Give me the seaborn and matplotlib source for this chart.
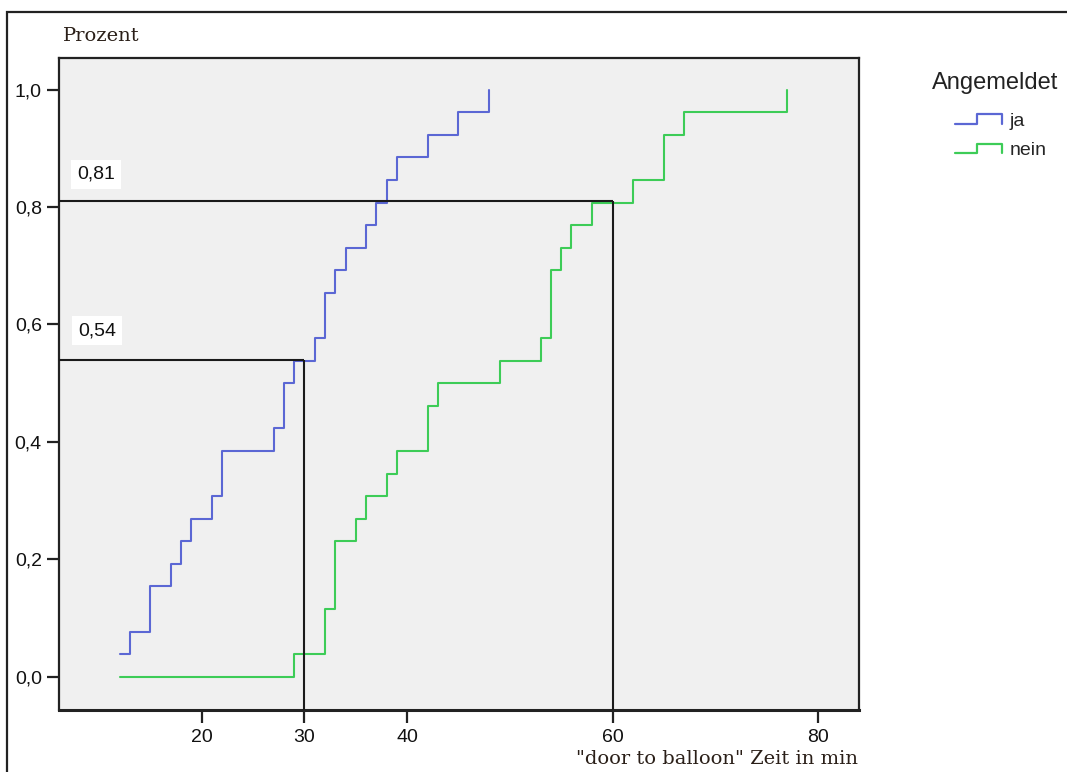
import numpy as np
import pandas as pd
import seaborn as sns
import matplotlib
matplotlib.use("Agg")
import matplotlib.pyplot as plt
from matplotlib.lines import Line2D
from matplotlib.patches import Rectangle
from matplotlib.legend_handler import HandlerBase
from matplotlib.ticker import FuncFormatter

# Cumulative share of patients by "door to balloon" time (n = 26 per group)
n_cases = 26
ja_minutes = [12, 13, 15, 17, 18, 19, 21, 22, 27, 28, 29, 31, 32, 33, 34, 36, 37, 38, 39, 42, 45, 48]
ja_cum = [1, 2, 4, 5, 6, 7, 8, 10, 11, 13, 14, 15, 17, 18, 19, 20, 21, 22, 23, 24, 25, 26]
nein_minutes = [12, 29, 32, 33, 35, 36, 38, 39, 42, 43, 49, 53, 54, 55, 56, 58, 62, 65, 67, 77]
nein_cum = [0, 1, 3, 6, 7, 8, 9, 10, 12, 13, 14, 15, 18, 19, 20, 21, 22, 24, 25, 26]

groups = ["ja", "nein"]
colors = {"ja": "#5b67d4", "nein": "#3dcc57"}

# Reference markers: share reached after 30 and 60 minutes
ref_minutes = [30, 60]
ref_shares = [0.54, 0.81]
ref_labels = ["0,54", "0,81"]

x_ticks = [20, 30, 40, 60, 80]
y_ticks = [0.0, 0.2, 0.4, 0.6, 0.8, 1.0]

df = pd.concat([
    pd.DataFrame({"Zeit": ja_minutes, "Anteil": np.array(ja_cum) / n_cases, "Angemeldet": "ja"}),
    pd.DataFrame({"Zeit": nein_minutes, "Anteil": np.array(nein_cum) / n_cases, "Angemeldet": "nein"}),
], ignore_index=True)

sns.set_theme(style="white")
plt.rcParams["font.family"] = ["Liberation Sans", "DejaVu Sans"]

W, H = 1067, 772
fig = plt.figure(figsize=(W / 100, H / 100), dpi=100, facecolor="white")
ax = fig.add_axes([58.5 / W, 1 - 709.5 / H, (859 - 58.5) / W, (709.5 - 58.3) / H])
ax.set_facecolor("#f0f0f0")

xlim = (6.05, 84.0)
ylim = (-0.0559, 1.0535)

sns.lineplot(data=df, x="Zeit", y="Anteil", hue="Angemeldet", palette=colors,
             hue_order=groups, estimator=None, drawstyle="steps-post",
             linewidth=1.5, legend=False, ax=ax, zorder=3)

# Reference lines from the y axis to the time, then down to the x axis
for t, s in zip(ref_minutes, ref_shares):
    ax.hlines(s, xlim[0], t, color="#1a1a1a", linewidth=1.5, zorder=4)
    ax.vlines(t, ylim[0], s, color="#1a1a1a", linewidth=1.5, zorder=4)

label_offsets = {"0,54": (19.5, 29), "0,81": (18.5, 27)}
for s, lab in zip(ref_shares, ref_labels):
    ax.annotate(lab, xy=(0, s), xycoords=("axes fraction", "data"),
                xytext=label_offsets[lab], textcoords="offset pixels",
                ha="left", va="center", fontsize=14, color="#111111",
                bbox=dict(boxstyle="square,pad=0.3", facecolor="white", edgecolor="none"),
                zorder=5)

ax.set_xlim(*xlim)
ax.set_ylim(*ylim)
ax.set_xticks(x_ticks)
ax.set_xticklabels([str(v) for v in x_ticks])
ax.set_yticks(y_ticks)
ax.yaxis.set_major_formatter(FuncFormatter(lambda v, _: f"{v:.1f}".replace(".", ",")))
ax.tick_params(axis="both", which="major", direction="out", length=9, width=1.6,
               color="#222222", labelsize=14, labelcolor="#111111",
               bottom=True, left=True, top=False, right=False)
ax.tick_params(axis="y", pad=3)
ax.tick_params(axis="x", pad=5)
ax.set_xlabel("")
ax.set_ylabel("")
for side in ["left", "right", "top", "bottom"]:
    ax.spines[side].set_visible(True)
    ax.spines[side].set_color("#222222")
    ax.spines[side].set_linewidth(1.6)
ax.spines["bottom"].set_linewidth(2.2)

serif = ["DejaVu Serif", "Liberation Serif"]
fig.text(63 / W, 1 - 36 / H, "Prozent", fontsize=14, family=serif,
         color="#2a1f18", ha="left", va="center")
fig.text(858 / W, 1 - 759 / H, "\"door to balloon\" Zeit in min", fontsize=14,
         family=serif, color="#2a1f18", ha="right", va="center")

# Outer frame around the chart
fig.patches.append(Rectangle((7.3 / W, -0.2), 2.0, 1.2 - 11.7 / H, transform=fig.transFigure,
                             fill=False, edgecolor="#222222", linewidth=1.6, clip_on=False))


class StepHandler(HandlerBase):
    def create_artists(self, legend, orig_handle, xdescent, ydescent, width, height, fontsize, trans):
        x0, x1 = -xdescent, -xdescent + width
        xm = x0 + width * 0.48
        lo, hi = -ydescent + height * 0.15, -ydescent + height * 0.85
        line = Line2D([x0, xm, xm, x1, x1], [lo, lo, hi, hi, lo],
                      color=orig_handle.get_color(), linewidth=1.6, transform=trans)
        return [line]


fig.text(932 / W, 1 - 83 / H, "Angemeldet", fontsize=17, color="#222222",
         ha="left", va="center")
handles = [Line2D([], [], color=colors[g]) for g in groups]
leg = fig.legend(handles, groups, loc="upper left", bbox_to_anchor=(955 / W, 1 - 112 / H),
                 bbox_transform=fig.transFigure, frameon=False,
                 fontsize=14, handlelength=2.4, handletextpad=0.4,
                 labelspacing=0.62, borderpad=0, borderaxespad=0,
                 handler_map={Line2D: StepHandler()})

fig.savefig("out.png", dpi=100, facecolor="white")
